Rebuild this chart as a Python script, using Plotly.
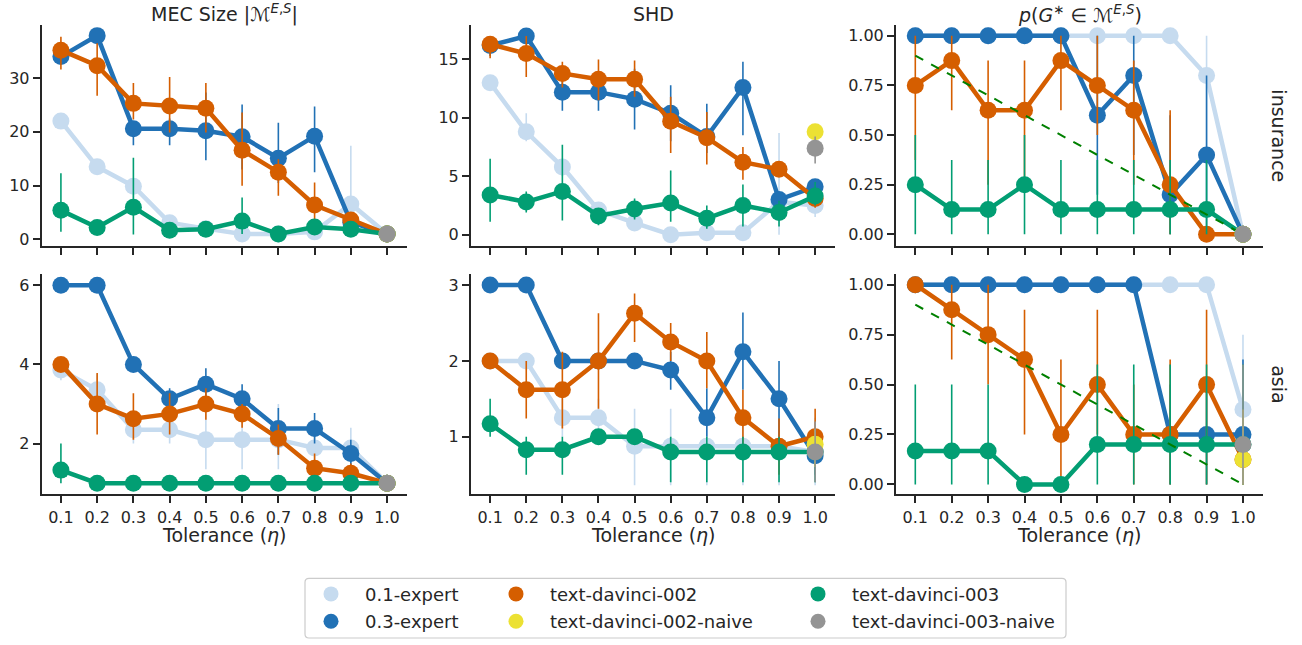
import plotly.graph_objects as go

W, H = 1302, 645
FONT = "DejaVu Sans"
INK = "#262626"

# ---------------- data ----------------
tolerance = [0.1, 0.2, 0.3, 0.4, 0.5, 0.6, 0.7, 0.8, 0.9, 1.0]
tolerance_labels = ["0.1", "0.2", "0.3", "0.4", "0.5", "0.6", "0.7", "0.8", "0.9", "1.0"]
naive_tol = [1.0]
ref_line = [0.9, 0.8, 0.7, 0.6, 0.5, 0.4, 0.3, 0.2, 0.1, 0.0]

series_names = ["0.1-expert", "0.3-expert", "text-davinci-002", "text-davinci-003"]
naive_names = ["text-davinci-002-naive", "text-davinci-003-naive"]

# insurance - MEC size
ins_mec_exp01 = [22.0, 13.5, 9.9, 3.1, 2.0, 1.0, 1.0, 1.4, 6.6, 1.0]
ins_mec_exp01_lo = [21.0, 12.5, 7.5, 2.0, 1.3, 1.0, 1.0, 1.0, 1.0, 1.0]
ins_mec_exp01_hi = [23.0, 14.5, 11.2, 4.0, 2.8, 1.0, 1.0, 2.0, 17.4, 1.0]
ins_mec_exp03 = [34.0, 37.9, 20.6, 20.6, 20.2, 19.1, 15.1, 19.2, 3.2, 1.0]
ins_mec_exp03_lo = [33.0, 36.5, 17.5, 17.5, 14.7, 13.0, 10.5, 12.5, 2.0, 1.0]
ins_mec_exp03_hi = [35.0, 38.5, 22.0, 22.5, 27.3, 25.1, 21.7, 24.7, 4.5, 1.0]
ins_mec_dv002 = [35.2, 32.3, 25.3, 24.8, 24.4, 16.6, 12.5, 6.4, 3.6, 1.0]
ins_mec_dv002_lo = [31.6, 26.7, 22.3, 19.9, 19.9, 10.0, 8.1, 3.2, 2.5, 1.0]
ins_mec_dv002_hi = [37.7, 36.5, 29.1, 30.2, 29.1, 23.6, 14.9, 10.6, 4.8, 1.0]
ins_mec_dv003 = [5.4, 2.2, 6.0, 1.7, 1.9, 3.4, 1.0, 2.3, 1.9, 1.0]
ins_mec_dv003_lo = [1.4, 1.5, 0.9, 1.2, 1.2, 1.0, 1.0, 1.2, 1.2, 1.0]
ins_mec_dv003_hi = [12.3, 3.0, 15.2, 2.2, 2.6, 7.8, 1.0, 3.5, 2.6, 1.0]
ins_mec_naive002 = [1.0]; ins_mec_naive002_lo = [1.0]; ins_mec_naive002_hi = [1.0]
ins_mec_naive003 = [1.0]; ins_mec_naive003_lo = [1.0]; ins_mec_naive003_hi = [1.0]

# insurance - SHD
ins_shd_exp01 = [13.0, 8.8, 5.8, 2.1, 1.0, 0.0, 0.17, 0.17, 2.8, 2.5]
ins_shd_exp01_lo = [12.5, 8.0, 5.0, 1.5, 0.5, 0.0, 0.0, 0.0, 0.0, 1.5]
ins_shd_exp01_hi = [13.5, 10.4, 6.5, 2.5, 1.5, 0.0, 0.5, 0.5, 8.7, 3.0]
ins_shd_exp03 = [16.2, 17.0, 12.2, 12.2, 11.6, 10.4, 8.4, 12.6, 3.0, 4.1]
ins_shd_exp03_lo = [15.3, 16.5, 10.6, 10.6, 9.0, 8.0, 7.0, 8.5, 2.5, 3.2]
ins_shd_exp03_hi = [17.0, 17.5, 13.5, 13.5, 14.2, 12.8, 11.2, 14.8, 3.5, 4.5]
ins_shd_dv002 = [16.3, 15.5, 13.8, 13.3, 13.3, 9.7, 8.3, 6.2, 5.6, 3.1]
ins_shd_dv002_lo = [15.1, 13.5, 12.6, 11.5, 11.8, 7.0, 6.0, 4.7, 5.0, 2.3]
ins_shd_dv002_hi = [17.0, 17.0, 14.8, 15.0, 14.9, 11.8, 10.5, 7.5, 6.2, 3.7]
ins_shd_dv003 = [3.4, 2.8, 3.7, 1.6, 2.2, 2.7, 1.4, 2.5, 1.9, 3.3]
ins_shd_dv003_lo = [1.1, 1.9, 1.2, 0.8, 1.3, 1.1, 0.5, 0.7, 0.7, 2.5]
ins_shd_dv003_hi = [6.5, 3.7, 7.7, 2.1, 3.1, 5.5, 2.5, 4.3, 2.9, 4.5]
ins_shd_naive002 = [8.8]; ins_shd_naive002_lo = [8.6]; ins_shd_naive002_hi = [9.0]
ins_shd_naive003 = [7.4]; ins_shd_naive003_lo = [6.1]; ins_shd_naive003_hi = [8.4]

# insurance - p(G* in MEC)
ins_p_exp01 = [1.0, 1.0, 1.0, 1.0, 1.0, 1.0, 1.0, 1.0, 0.8, 0.0]
ins_p_exp01_lo = [1.0, 1.0, 1.0, 1.0, 1.0, 1.0, 1.0, 1.0, 0.4, 0.0]
ins_p_exp01_hi = [1.0, 1.0, 1.0, 1.0, 1.0, 1.0, 1.0, 1.0, 1.0, 0.0]
ins_p_exp03 = [1.0, 1.0, 1.0, 1.0, 1.0, 0.6, 0.8, 0.2, 0.4, 0.0]
ins_p_exp03_lo = [1.0, 1.0, 1.0, 1.0, 1.0, 0.2, 0.4, 0.0, 0.0, 0.0]
ins_p_exp03_hi = [1.0, 1.0, 1.0, 1.0, 1.0, 1.0, 1.0, 0.6, 0.8, 0.0]
ins_p_dv002 = [0.75, 0.875, 0.625, 0.625, 0.875, 0.75, 0.625, 0.25, 0.0, 0.0]
ins_p_dv002_lo = [0.375, 0.625, 0.25, 0.25, 0.625, 0.5, 0.25, 0.0, 0.0, 0.0]
ins_p_dv002_hi = [1.0, 1.0, 0.875, 0.875, 1.0, 1.0, 0.875, 0.625, 0.0, 0.0]
ins_p_dv003 = [0.25, 0.125, 0.125, 0.25, 0.125, 0.125, 0.125, 0.125, 0.125, 0.0]
ins_p_dv003_lo = [0.0, 0.0, 0.0, 0.0, 0.0, 0.0, 0.0, 0.0, 0.0, 0.0]
ins_p_dv003_hi = [0.5, 0.375, 0.375, 0.5, 0.375, 0.375, 0.375, 0.375, 0.375, 0.0]
ins_p_naive002 = [0.0]; ins_p_naive002_lo = [0.0]; ins_p_naive002_hi = [0.0]
ins_p_naive003 = [0.0]; ins_p_naive003_lo = [0.0]; ins_p_naive003_hi = [0.0]

# asia - MEC size
asia_mec_exp01 = [3.86, 3.36, 2.35, 2.35, 2.1, 2.1, 2.1, 1.89, 1.89, 1.0]
asia_mec_exp01_lo = [3.6, 3.0, 2.0, 2.0, 1.35, 1.35, 1.35, 1.5, 1.3, 1.0]
asia_mec_exp01_hi = [4.0, 3.75, 2.7, 2.75, 3.23, 3.23, 3.0, 2.2, 2.4, 1.0]
asia_mec_exp03 = [6.0, 6.0, 4.0, 3.13, 3.5, 3.13, 2.38, 2.38, 1.75, 1.0]
asia_mec_exp03_lo = [6.0, 6.0, 4.0, 2.8, 3.15, 2.8, 1.72, 2.0, 1.3, 1.0]
asia_mec_exp03_hi = [6.0, 6.0, 4.0, 3.4, 3.9, 3.5, 2.9, 2.77, 2.1, 1.0]
asia_mec_dv002 = [4.0, 3.0, 2.63, 2.75, 3.0, 2.75, 2.13, 1.38, 1.25, 1.0]
asia_mec_dv002_lo = [4.0, 2.23, 2.1, 2.23, 2.6, 2.4, 1.72, 1.0, 1.0, 1.0]
asia_mec_dv002_hi = [4.0, 3.78, 3.27, 3.27, 3.4, 3.0, 2.48, 1.75, 1.5, 1.0]
asia_mec_dv003 = [1.33, 1.0, 1.0, 1.0, 1.0, 1.0, 1.0, 1.0, 1.0, 1.0]
asia_mec_dv003_lo = [1.0, 1.0, 1.0, 1.0, 1.0, 1.0, 1.0, 1.0, 1.0, 1.0]
asia_mec_dv003_hi = [2.0, 1.0, 1.0, 1.0, 1.0, 1.0, 1.0, 1.0, 1.0, 1.0]
asia_mec_naive002 = [1.0]; asia_mec_naive002_lo = [1.0]; asia_mec_naive002_hi = [1.0]
asia_mec_naive003 = [1.0]; asia_mec_naive003_lo = [1.0]; asia_mec_naive003_hi = [1.0]

# asia - SHD
asia_shd_exp01 = [2.0, 2.0, 1.25, 1.25, 0.875, 0.875, 0.875, 0.875, 0.875, 0.8]
asia_shd_exp01_lo = [2.0, 2.0, 1.0, 1.0, 0.36, 0.36, 0.36, 0.36, 0.36, 0.36]
asia_shd_exp01_hi = [2.0, 2.0, 1.5, 1.5, 1.37, 1.37, 1.37, 1.37, 1.37, 1.25]
asia_shd_exp03 = [3.0, 3.0, 2.0, 2.0, 2.0, 1.88, 1.25, 2.12, 1.5, 0.75]
asia_shd_exp03_lo = [3.0, 3.0, 2.0, 2.0, 2.0, 1.62, 1.0, 1.62, 1.0, 0.5]
asia_shd_exp03_hi = [3.0, 3.0, 2.0, 2.0, 2.0, 2.12, 1.64, 2.64, 2.0, 1.0]
asia_shd_dv002 = [2.0, 1.62, 1.62, 2.0, 2.63, 2.25, 2.0, 1.25, 0.875, 1.0]
asia_shd_dv002_lo = [2.0, 1.24, 1.11, 1.37, 2.25, 2.0, 1.64, 0.89, 0.5, 0.62]
asia_shd_dv002_hi = [2.0, 2.0, 2.12, 2.63, 2.89, 2.5, 2.38, 1.62, 1.24, 1.37]
asia_shd_dv003 = [1.17, 0.83, 0.83, 1.0, 1.0, 0.8, 0.8, 0.8, 0.8, 0.8]
asia_shd_dv003_lo = [1.0, 0.5, 0.5, 1.0, 1.0, 0.4, 0.4, 0.4, 0.4, 0.4]
asia_shd_dv003_hi = [1.5, 1.0, 1.0, 1.0, 1.0, 1.0, 1.0, 1.0, 1.0, 1.0]
asia_shd_naive002 = [0.9]; asia_shd_naive002_lo = [0.6]; asia_shd_naive002_hi = [1.1]
asia_shd_naive003 = [0.8]; asia_shd_naive003_lo = [0.4]; asia_shd_naive003_hi = [1.2]

# asia - p(G* in MEC)
asia_p_exp01 = [1.0, 1.0, 1.0, 1.0, 1.0, 1.0, 1.0, 1.0, 1.0, 0.375]
asia_p_exp01_lo = [1.0, 1.0, 1.0, 1.0, 1.0, 1.0, 1.0, 1.0, 1.0, 0.0]
asia_p_exp01_hi = [1.0, 1.0, 1.0, 1.0, 1.0, 1.0, 1.0, 1.0, 1.0, 0.75]
asia_p_exp03 = [1.0, 1.0, 1.0, 1.0, 1.0, 1.0, 1.0, 0.25, 0.25, 0.25]
asia_p_exp03_lo = [1.0, 1.0, 1.0, 1.0, 1.0, 1.0, 1.0, 0.0, 0.0, 0.0]
asia_p_exp03_hi = [1.0, 1.0, 1.0, 1.0, 1.0, 1.0, 1.0, 0.5, 0.5, 0.625]
asia_p_dv002 = [1.0, 0.875, 0.75, 0.625, 0.25, 0.5, 0.25, 0.25, 0.5, 0.125]
asia_p_dv002_lo = [1.0, 0.625, 0.5, 0.25, 0.0, 0.25, 0.0, 0.0, 0.0, 0.0]
asia_p_dv002_hi = [1.0, 1.0, 1.0, 0.875, 0.625, 0.875, 0.5, 0.625, 0.875, 0.375]
asia_p_dv003 = [0.167, 0.167, 0.167, 0.0, 0.0, 0.2, 0.2, 0.2, 0.2, 0.2]
asia_p_dv003_lo = [0.0, 0.0, 0.0, 0.0, 0.0, 0.0, 0.0, 0.0, 0.0, 0.0]
asia_p_dv003_hi = [0.5, 0.5, 0.5, 0.0, 0.0, 0.6, 0.6, 0.6, 0.6, 0.6]
asia_p_naive002 = [0.125]; asia_p_naive002_lo = [0.0]; asia_p_naive002_hi = [0.375]
asia_p_naive003 = [0.2]; asia_p_naive003_lo = [0.0]; asia_p_naive003_hi = [0.6]

# ---------------- styling ----------------
series_colors = ["#c6dbef", "#2171b5", "#d55e00", "#029e73"]
naive_colors = ["#ece133", "#949494"]
REF_COLOR = "#008000"

xdom = [(41.7 / W, 407 / W), (471 / W, 835 / W), (896 / W, 1263 / W)]
ydom = [((H - 247) / H, (H - 25) / H), ((H - 496.7) / H, (H - 275) / H)]
XRANGE = [0.047, 1.055]

panels = [
    dict(row=0, col=0, yrange=[-1.2, 39.9], ticks=[0, 10, 20, 30], ticktext=None,
         series=[(ins_mec_exp01, ins_mec_exp01_lo, ins_mec_exp01_hi),
                 (ins_mec_exp03, ins_mec_exp03_lo, ins_mec_exp03_hi),
                 (ins_mec_dv002, ins_mec_dv002_lo, ins_mec_dv002_hi),
                 (ins_mec_dv003, ins_mec_dv003_lo, ins_mec_dv003_hi)],
         naive=[(ins_mec_naive002, ins_mec_naive002_lo, ins_mec_naive002_hi),
                (ins_mec_naive003, ins_mec_naive003_lo, ins_mec_naive003_hi)], ref=False),
    dict(row=0, col=1, yrange=[-0.96, 17.96], ticks=[0, 5, 10, 15], ticktext=None,
         series=[(ins_shd_exp01, ins_shd_exp01_lo, ins_shd_exp01_hi),
                 (ins_shd_exp03, ins_shd_exp03_lo, ins_shd_exp03_hi),
                 (ins_shd_dv002, ins_shd_dv002_lo, ins_shd_dv002_hi),
                 (ins_shd_dv003, ins_shd_dv003_lo, ins_shd_dv003_hi)],
         naive=[(ins_shd_naive002, ins_shd_naive002_lo, ins_shd_naive002_hi),
                (ins_shd_naive003, ins_shd_naive003_lo, ins_shd_naive003_hi)], ref=False),
    dict(row=0, col=2, yrange=[-0.058, 1.055], ticks=[0, 0.25, 0.5, 0.75, 1.0],
         ticktext=["0.00", "0.25", "0.50", "0.75", "1.00"],
         series=[(ins_p_exp01, ins_p_exp01_lo, ins_p_exp01_hi),
                 (ins_p_exp03, ins_p_exp03_lo, ins_p_exp03_hi),
                 (ins_p_dv002, ins_p_dv002_lo, ins_p_dv002_hi),
                 (ins_p_dv003, ins_p_dv003_lo, ins_p_dv003_hi)],
         naive=[(ins_p_naive002, ins_p_naive002_lo, ins_p_naive002_hi),
                (ins_p_naive003, ins_p_naive003_lo, ins_p_naive003_hi)], ref=True),
    dict(row=1, col=0, yrange=[0.717, 6.29], ticks=[2, 4, 6], ticktext=None,
         series=[(asia_mec_exp01, asia_mec_exp01_lo, asia_mec_exp01_hi),
                 (asia_mec_exp03, asia_mec_exp03_lo, asia_mec_exp03_hi),
                 (asia_mec_dv002, asia_mec_dv002_lo, asia_mec_dv002_hi),
                 (asia_mec_dv003, asia_mec_dv003_lo, asia_mec_dv003_hi)],
         naive=[(asia_mec_naive002, asia_mec_naive002_lo, asia_mec_naive002_hi),
                (asia_mec_naive003, asia_mec_naive003_lo, asia_mec_naive003_hi)], ref=False),
    dict(row=1, col=1, yrange=[0.24, 3.15], ticks=[1, 2, 3], ticktext=None,
         series=[(asia_shd_exp01, asia_shd_exp01_lo, asia_shd_exp01_hi),
                 (asia_shd_exp03, asia_shd_exp03_lo, asia_shd_exp03_hi),
                 (asia_shd_dv002, asia_shd_dv002_lo, asia_shd_dv002_hi),
                 (asia_shd_dv003, asia_shd_dv003_lo, asia_shd_dv003_hi)],
         naive=[(asia_shd_naive002, asia_shd_naive002_lo, asia_shd_naive002_hi),
                (asia_shd_naive003, asia_shd_naive003_lo, asia_shd_naive003_hi)], ref=False),
    dict(row=1, col=2, yrange=[-0.05, 1.055], ticks=[0, 0.25, 0.5, 0.75, 1.0],
         ticktext=["0.00", "0.25", "0.50", "0.75", "1.00"],
         series=[(asia_p_exp01, asia_p_exp01_lo, asia_p_exp01_hi),
                 (asia_p_exp03, asia_p_exp03_lo, asia_p_exp03_hi),
                 (asia_p_dv002, asia_p_dv002_lo, asia_p_dv002_hi),
                 (asia_p_dv003, asia_p_dv003_lo, asia_p_dv003_hi)],
         naive=[(asia_p_naive002, asia_p_naive002_lo, asia_p_naive002_hi),
                (asia_p_naive003, asia_p_naive003_lo, asia_p_naive003_hi)], ref=True),
]


def err(vals, lo, hi, color):
    return dict(type="data", symmetric=False,
                array=[h - v for v, h in zip(vals, hi)],
                arrayminus=[v - l for v, l in zip(vals, lo)],
                color=color, thickness=1.6, width=0)


fig = go.Figure()
layout = dict()

for i, p in enumerate(panels):
    k = "" if i == 0 else str(i + 1)
    xa, ya = "x" + k, "y" + k
    for (vals, lo, hi), name, color in zip(p["series"], series_names, series_colors):
        fig.add_trace(go.Scatter(
            x=tolerance, y=vals, mode="lines+markers", name=name, showlegend=False,
            line=dict(color=color, width=4.5), marker=dict(color=color, size=17),
            error_y=err(vals, lo, hi, color), xaxis=xa, yaxis=ya))
    if p["ref"]:
        fig.add_trace(go.Scatter(
            x=tolerance, y=ref_line, mode="lines", showlegend=False,
            line=dict(color=REF_COLOR, width=2, dash="dash"), xaxis=xa, yaxis=ya))
    for (vals, lo, hi), name, color in zip(p["naive"], naive_names, naive_colors):
        fig.add_trace(go.Scatter(
            x=naive_tol, y=vals, mode="markers", name=name, showlegend=False,
            marker=dict(color=color, size=17),
            error_y=err(vals, lo, hi, color), xaxis=xa, yaxis=ya))

    axis_common = dict(showline=True, linewidth=2, linecolor=INK, ticks="outside",
                       ticklen=7, tickwidth=1.6, tickcolor=INK, showgrid=False,
                       zeroline=False, tickfont=dict(family=FONT, size=16, color=INK))
    layout["xaxis" + k] = dict(axis_common, domain=xdom[p["col"]], range=XRANGE,
                               tickvals=tolerance, ticktext=tolerance_labels,
                               showticklabels=(p["row"] == 1), anchor=ya)
    ydict = dict(axis_common, domain=ydom[p["row"]], range=p["yrange"],
                 tickvals=p["ticks"], anchor=xa)
    if p["ticktext"]:
        ydict["ticktext"] = p["ticktext"]
    layout["yaxis" + k] = ydict

# legend: one legend per entry, arranged in 3 columns x 2 rows
legend_entries = [
    ("0.1-expert", series_colors[0], 0, 0),
    ("0.3-expert", series_colors[1], 0, 1),
    ("text-davinci-002", series_colors[2], 1, 0),
    ("text-davinci-002-naive", naive_colors[0], 1, 1),
    ("text-davinci-003", series_colors[3], 2, 0),
    ("text-davinci-003-naive", naive_colors[1], 2, 1),
]
legend_text_x = [365, 550, 852]
legend_row_y = [597, 624.5]
ITEMW = 58
for j, (name, color, c, r) in enumerate(legend_entries):
    lk = "legend" if j == 0 else "legend" + str(j + 1)
    fig.add_trace(go.Scatter(x=[None], y=[None], mode="markers", name=name,
                             marker=dict(color=color, size=15), showlegend=True,
                             legend=lk))
    layout[lk] = dict(x=(legend_text_x[c] - ITEMW - 10) / W, xanchor="left",
                      y=(H - legend_row_y[r]) / H, yanchor="middle",
                      bgcolor="rgba(0,0,0,0)", borderwidth=0, itemwidth=ITEMW,
                      font=dict(family=FONT, size=18, color=INK))

annotations = []
titles = ["MEC Size |ℳ<sup><i>E</i>,<i>S</i></sup>|", "SHD",
          "<i>p</i>(<i>G</i><sup>∗</sup> ∈ ℳ<sup><i>E</i>,<i>S</i></sup>)"]
for c, t in enumerate(titles):
    annotations.append(dict(text=t, x=(xdom[c][0] + xdom[c][1]) / 2, y=(H - 14) / H,
                            xref="paper", yref="paper", showarrow=False,
                            xanchor="center", yanchor="middle",
                            font=dict(family=FONT, size=19, color=INK)))
    annotations.append(dict(text="Tolerance (<i>η</i>)", x=(xdom[c][0] + xdom[c][1]) / 2,
                            y=(H - 538) / H, xref="paper", yref="paper", showarrow=False,
                            xanchor="center", yanchor="middle",
                            font=dict(family=FONT, size=19, color=INK)))
for label, yc in [("insurance", 136), ("asia", 386)]:
    annotations.append(dict(text=label, x=1279 / W, y=(H - yc) / H, xref="paper",
                            yref="paper", showarrow=False, textangle=90,
                            xanchor="center", yanchor="middle",
                            font=dict(family=FONT, size=19, color=INK)))

# legend frame (rounded)
x0, x1, y0, y1, rad = 305 / W, 1066 / W, (H - 641) / H, (H - 581) / H, 4
rx, ry = rad / W, rad / H
path = (f"M {x0+rx},{y0} L {x1-rx},{y0} Q {x1},{y0} {x1},{y0+ry} L {x1},{y1-ry} "
        f"Q {x1},{y1} {x1-rx},{y1} L {x0+rx},{y1} Q {x0},{y1} {x0},{y1-ry} "
        f"L {x0},{y0+ry} Q {x0},{y0} {x0+rx},{y0} Z")
shapes = [dict(type="path", path=path, xref="paper", yref="paper",
               line=dict(color="#cccccc", width=1.2), fillcolor="white", layer="below")]

fig.update_layout(
    width=W, height=H, margin=dict(l=0, r=0, t=0, b=0),
    paper_bgcolor="white", plot_bgcolor="white",
    font=dict(family=FONT, size=16, color=INK),
    annotations=annotations, shapes=shapes, **layout)

fig.write_html("out.html")
